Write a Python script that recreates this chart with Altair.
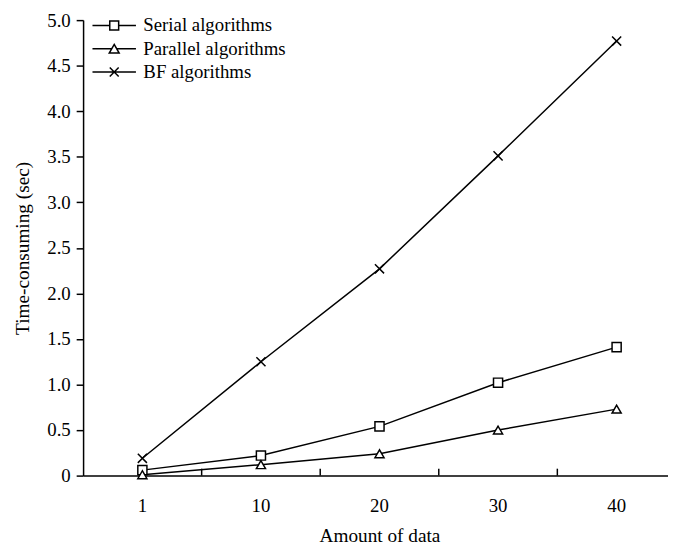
import altair as alt
import pandas as pd

categories = ["1", "10", "20", "30", "40"]
series_names = ["Serial algorithms", "Parallel algorithms", "BF algorithms"]
serial = [0.06, 0.22, 0.54, 1.02, 1.41]
parallel = [0.01, 0.12, 0.24, 0.50, 0.73]
bf = [0.19, 1.25, 2.27, 3.51, 4.77]
y_ticks = [0, 0.5, 1.0, 1.5, 2.0, 2.5, 3.0, 3.5, 4.0, 4.5, 5.0]
between_ticks = ["10", "20", "30", "40"]  # tick marks drawn at the start of these bands

FONT = "Liberation Serif"

rows = []
for name, vals in zip(series_names, [serial, parallel, bf]):
    for c, v in zip(categories, vals):
        rows.append({"amount": c, "time": v, "series": name})
df = pd.DataFrame(rows)
tick_df = pd.DataFrame({"amount": between_ticks})

plot_shapes = ["square", "triangle-up", "M-1,-1L1,1M-1,1L1,-1"]
legend_shapes = [
    "M-4.4,0L-0.9,0M0.9,0L4.4,0M-0.9,-0.9L0.9,-0.9L0.9,0.9L-0.9,0.9Z",
    "M-4.4,0L-0.5,0M0.5,0L4.4,0M0,-0.87L1,0.87L-1,0.87Z",
    "M-4.4,0L4.4,0M-0.9,-0.9L0.9,0.9M-0.9,0.9L0.9,-0.9",
]

xscale = alt.Scale(type="band", domain=categories, range=[0, 600], paddingInner=0, paddingOuter=0)
x_axis = alt.Axis(
    title="Amount of data", ticks=False, labelFontSize=19, titleFontSize=19.5,
    labelPadding=21, titleY=61, titleBaseline="middle", labelAngle=0,
    domainColor="black", domainWidth=1.5,
)
yscale = alt.Scale(domain=[0, 5])
y_axis = alt.Axis(
    title="Time-consuming (sec)", values=y_ticks,
    labelExpr="datum.value == 0 ? '0' : format(datum.value, '.1f')",
    labelFontSize=19, titleFontSize=19.5, tickSize=7, labelPadding=6,
    titleX=-61, titleBaseline="middle", grid=False,
    domainColor="black", domainWidth=1.5, tickColor="black", tickWidth=1.5,
)

x_enc = alt.X("amount:N", scale=xscale, axis=x_axis, bandPosition=0.5)
y_enc = alt.Y("time:Q", scale=yscale, axis=y_axis)

lines = alt.Chart(df).mark_line(color="black", strokeWidth=1.5).encode(
    x=x_enc, y=y_enc, detail="series:N"
)

points = alt.Chart(df).mark_point(
    filled=True, fill="white", stroke="black", strokeWidth=1.5, size=85, opacity=1
).encode(
    x=x_enc, y=y_enc,
    shape=alt.Shape("series:N", scale=alt.Scale(domain=series_names, range=plot_shapes), legend=None),
)

# invisible marks that only carry the line+marker legend
legend_layer = alt.Chart(df).mark_point(
    filled=False, color="black", strokeWidth=1.5, size=100, opacity=0
).encode(
    x=x_enc, y=y_enc,
    shape=alt.Shape(
        "series:N",
        scale=alt.Scale(domain=series_names, range=legend_shapes),
        legend=alt.Legend(
            title=None, orient="none", legendX=22, legendY=-4, padding=0,
            symbolSize=100, symbolStrokeColor="black", symbolFillColor="white",
            symbolStrokeWidth=1.5, symbolOpacity=1,
            labelFont=FONT, labelFontSize=19, labelColor="black",
            labelOffset=20, rowPadding=3.5,
        ),
    ),
)

ticks = alt.Chart(tick_df).mark_rule(color="black", strokeWidth=1.5).encode(
    x=alt.X("amount:N", scale=xscale, bandPosition=0),
    y=alt.value(461), y2=alt.value(454),
)

chart = alt.layer(lines, ticks, legend_layer, points).resolve_scale(shape="independent").properties(
    width=592, height=461,
    autosize=alt.AutoSizeParams(type="none"),
    padding={"left": 76, "top": 9, "right": 0, "bottom": 70},
).configure_view(stroke=None).configure_axis(
    labelFont=FONT, titleFont=FONT, labelColor="black", titleColor="black",
    titleFontWeight="normal",
).configure_legend(labelFont=FONT)

chart.save("out.html", embed_options={"renderer": "svg", "actions": False})
